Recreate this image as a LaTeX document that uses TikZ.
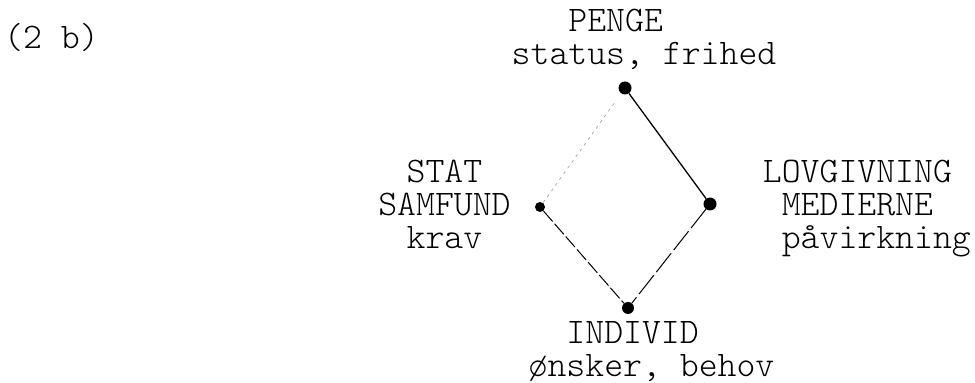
\documentclass[tikz,border=0pt]{standalone}
\usepackage{fontspec}
\setmonofont{Latin Modern Mono Light}
\usetikzlibrary{positioning}

\tikzset{
  prik/.style={circle,fill=black,inner sep=0pt,minimum size=13pt},
  tekst/.style={inner sep=0pt,font=\ttfamily\fontsize{36}{33}\selectfont},
  streg/.style={line width=1.3pt,black}
}

\begin{document}
\begin{tikzpicture}[x=1pt,y=1pt]
  \useasboundingbox (0,0) rectangle (975,383);
  \node[tekst,anchor=base west] (titel) at (4,334) {(2 b)};

  \node[prik] (penge) at (625,295) {};
  \node[prik,minimum size=10pt] (stat) at (540,176) {};
  \node[prik] (lov) at (710,179) {};
  \node[prik,minimum size=12pt] (indiv) at (628,75) {};

  \draw[streg] (penge) -- (lov);
  \draw[streg,line width=0.7pt,gray!70,dash pattern=on 3pt off 4pt,shorten <=12pt] (penge) -- (stat);
  \draw[streg,line width=1pt,dash pattern=on 14pt off 3pt] (stat) -- (indiv);
  \draw[streg,line width=1pt,dash pattern=on 24pt off 4pt] (lov) -- (indiv);

  \begin{scope}[every node/.style={tekst}]
    \node[above=11pt of penge,xshift=19pt,align=left] (npenge) {\hphantom{xxx}PENGE\\status, frihed};
    \node[left=24pt of stat,yshift=2.5pt,align=center] (nstat) {STAT\\SAMFUND\\krav};
    \node[right=46pt of lov,yshift=-4.5pt,align=left] (nlov) {LOVGIVNING\\\hphantom{x}MEDIERNE\\\hphantom{x}påvirkning};
    \node[below=7pt of indiv,xshift=23.5pt,align=left] (nindiv) {\hphantom{xx}INDIVID\\ønsker, behov};
  \end{scope}
\end{tikzpicture}
\end{document}
